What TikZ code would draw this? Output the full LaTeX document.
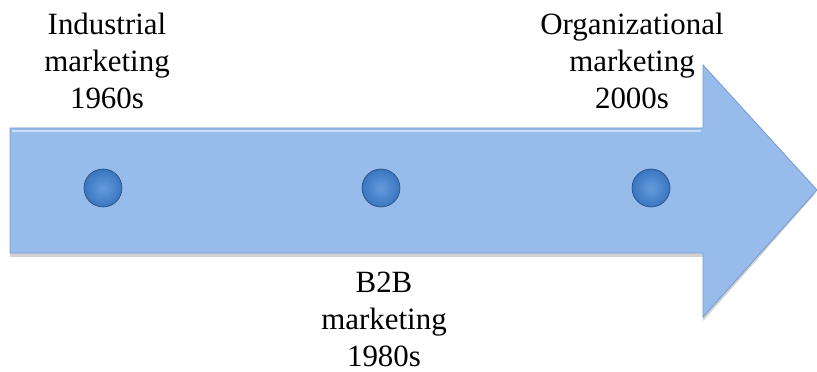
\documentclass[tikz,border=0pt]{standalone}
\usepackage{fontspec}
\setmainfont{Liberation Serif}
\definecolor{arrowblue}{RGB}{151,188,236}
\definecolor{arrowedge}{RGB}{120,155,205}
\definecolor{dotblue}{RGB}{58,118,192}
\definecolor{dotlight}{RGB}{100,155,220}
\begin{document}
\begin{tikzpicture}[x=0.025cm, y=-0.025cm,
  label text/.style={align=center, anchor=base, font=\fontsize{22}{26.5}\selectfont},
  dot/.style={circle, minimum size=38*0.025cm, inner sep=0pt, inner color=dotlight, outer color=dotblue, draw=dotblue!60!black, line width=0.4pt}]
\useasboundingbox (0,0) rectangle (817,372);

% the arrow
\fill[black, opacity=0.18] (10,132) -- (703,132) -- (703,69) -- (815,194) -- (703,321) -- (703,257) -- (10,257) -- cycle;
\draw[arrowedge, fill=arrowblue, line width=0.6pt] (10,128) -- (703,128) -- (703,65) -- (817,190) -- (703,317) -- (703,253) -- (10,253) -- cycle;
\draw[white, opacity=0.5, line width=2pt] (12,131) -- (701,131);

% the dots
\node[dot] (Dot 1) at (103,188) {};
\node[dot] (Dot 2) at (381,188) {};
\node[dot] (Dot 3) at (651,188) {};

% the labels
\node[label text] (Label 1) at (107,109) {Industrial\\marketing\\1960s};
\node[label text] (Label 2) at (384,367) {B2B\\marketing\\1980s};
\node[label text] (Label 3) at (632,109) {Organizational\\marketing\\2000s};
\end{tikzpicture}
\end{document}
